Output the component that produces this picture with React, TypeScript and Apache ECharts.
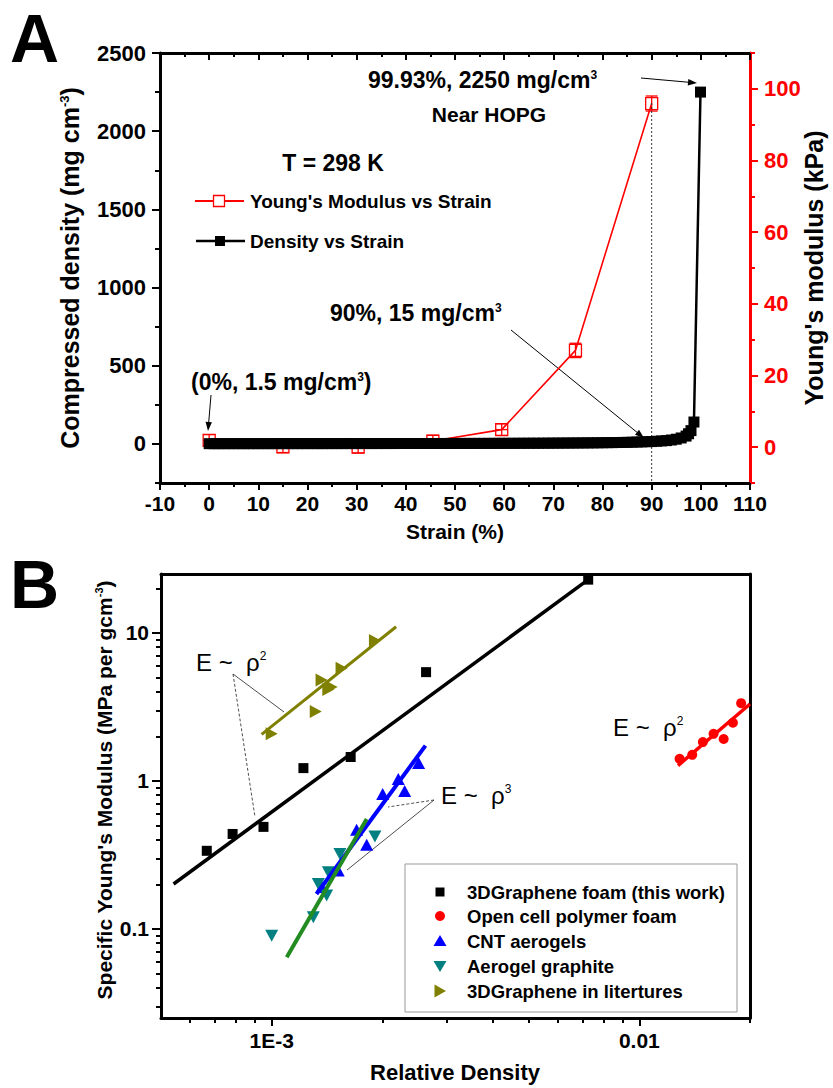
import React, { useEffect, useRef } from "react";
import * as echarts from "echarts";

const FONT = "'Liberation Sans', Arial, Helvetica, sans-serif";

// ---------------- Panel A data ----------------
const strainPct = [0,1,2,3,4,5,6,7,8,9,10,11,12,13,14,15,16,17,18,19,20,21,22,23,24,25,26,27,28,29,30,31,32,33,34,35,36,37,38,39,40,41,42,43,44,45,46,47,48,49,50,51,52,53,54,55,56,57,58,59,60,61,62,63,64,65,66,67,68,69,70,71,72,73,74,75,76,77,78,79,80,81,82,83,84,85,86,87,88,89,90,91,92,93,94,95,96,97,97.5,98,98.6,99.93];
const densityMg = [1.5,1.5,1.5,1.5,1.6,1.6,1.6,1.6,1.6,1.6,
  1.7,1.7,1.7,1.7,1.7,1.8,1.8,1.8,1.8,1.9,
  1.9,1.9,1.9,1.9,2.0,2.0,2.0,2.1,2.1,2.1,
  2.1,2.2,2.2,2.2,2.3,2.3,2.3,2.4,2.4,2.5,
  2.5,2.5,2.6,2.6,2.7,2.7,2.8,2.8,2.9,2.9,
  3.0,3.1,3.1,3.2,3.3,3.3,3.4,3.5,3.6,3.7,
  3.8,3.8,3.9,4.1,4.2,4.3,4.4,4.5,4.7,4.8,
  5.0,5.2,5.4,5.6,5.8,6.0,6.3,6.5,6.8,7.1,
  7.5,7.9,8.3,8.8,9.4,10,11,12,13,14,
  15,17,19,21,25,30,38,50,
  65,85,140,2250];
const modulusStrain = [0, 15, 30.3, 45.5, 59.5, 74.5, 90];
const modulusKPa = [1.9, 0.1, 0, 1.7, 4.9, 27, 95.9];
const modulusErrY = [1.6, 1.6, 1.6, 1.6, 1.6, 2.0, 2.1];
const modulusErrX = [1.2, 1.2, 1.2, 1.2, 1.2, 0, 0];
const densityTickValues = [0, 500, 1000, 1500, 2000, 2500];
const densityMinorValues = [-250, 250, 750, 1250, 1750, 2250];
const modulusTickValues = [0, 20, 40, 60, 80, 100];
const modulusMinorValues = [-10, 10, 30, 50, 70, 90, 110];

// ---------------- Panel B data ----------------
const foamDensity = [6.66e-4, 7.83e-4, 9.5e-4, 1.22e-3, 1.64e-3, 2.63e-3, 7.26e-3];
const foamModulus = [0.337, 0.438, 0.489, 1.22, 1.45, 5.43, 22.9];
const polymerDensity = [0.01287, 0.01393, 0.01489, 0.01592, 0.01696, 0.01797, 0.01892];
const polymerModulus = [1.41, 1.50, 1.83, 2.08, 1.92, 2.47, 3.35];
const cntDensity = [1.368e-3, 1.517e-3, 1.702e-3, 1.813e-3, 2.004e-3, 2.21e-3, 2.30e-3, 2.51e-3];
const cntModulus = [0.192, 0.248, 0.467, 0.370, 0.817, 1.03, 0.856, 1.32];
const graphiteDensity = [1.0e-3, 1.298e-3, 1.411e-3, 1.339e-3, 1.426e-3, 1.533e-3, 1.909e-3];
const graphiteModulus = [0.0898, 0.120, 0.168, 0.201, 0.241, 0.321, 0.421];
const litDensity = [1.0e-3, 1.318e-3, 1.367e-3, 1.426e-3, 1.456e-3, 1.549e-3, 1.909e-3];
const litModulus = [2.08, 2.94, 4.81, 4.14, 4.31, 5.77, 8.87];
const foamFitX = [5.41e-4, 7.26e-3];
const foamFitY = [0.201, 22.9];
const litFitX = [9.39e-4, 2.18e-3];
const litFitY = [2.06, 11.0];
const cntFitX = [1.324e-3, 2.62e-3];
const cntFitY = [0.172, 1.73];
const graphiteFitX = [1.099e-3, 1.813e-3];
const graphiteFitY = [0.0644, 0.553];
const polymerFitX = [0.01274, 0.02];
const polymerFitY = [1.269, 3.31];
const bXRange = [0.0005, 0.02];
const bYRange = [0.025, 25];
const bXLabelValues = [0.001, 0.01];
const bXLabelTexts = ["1E-3", "0.01"];
const bXMinorValues = [0.0006, 0.0007, 0.0008, 0.0009, 0.002, 0.003, 0.004, 0.005, 0.006, 0.007, 0.008, 0.009, 0.02];
const bYLabelValues = [0.1, 1, 10];
const bYLabelTexts = ["0.1", "1", "10"];
const bYMinorValues = [0.03, 0.04, 0.05, 0.06, 0.07, 0.08, 0.09, 0.2, 0.3, 0.4, 0.5, 0.6, 0.7, 0.8, 0.9, 2, 3, 4, 5, 6, 7, 8, 9, 20];
const legendNames = ["3DGraphene foam (this work)", "Open cell polymer foam", "CNT aerogels", "Aerogel graphite", "3DGraphene in litertures"];

const L = (v: number) => Math.log10(v);
const zipLog = (xs: number[], ys: number[]) => xs.map((x, i) => [L(x), L(ys[i])]);

const RED = "#FF0000";
const BLUE = "#0000FF";
const TEAL = "#008080";
const OLIVE = "#808000";
const GREEN = "#228B22";

function txt(x: number, y: number, text: string, size: number, o: any = {}) {
  const fill = o.color || "#000";
  const weight = o.weight || "bold";
  const sup = Math.round(size * 0.5);
  return {
    type: "text", x, y, rotation: o.rotation || 0, silent: true,
    style: {
      text, fill, fontSize: size, fontWeight: weight, fontFamily: o.family || FONT,
      align: o.align || "left", textAlign: o.align || "left",
      verticalAlign: "middle", textVerticalAlign: "middle",
      rich: {
        sup: { fontSize: sup, lineHeight: sup, fontWeight: weight, fontFamily: o.family || FONT, fill, verticalAlign: "top" },
      },
    },
  };
}

function arrow(x1: number, y1: number, x2: number, y2: number, head = 9, w = 3.2) {
  const dx = x2 - x1, dy = y2 - y1;
  const len = Math.hypot(dx, dy);
  const ux = dx / len, uy = dy / len;
  const bx = x2 - ux * head, by = y2 - uy * head;
  return [
    { type: "line", silent: true, shape: { x1, y1, x2: bx, y2: by }, style: { stroke: "#000", lineWidth: 1 } },
    { type: "polygon", silent: true, shape: { points: [[x2, y2], [bx - uy * w, by + ux * w], [bx + uy * w, by - ux * w]] }, style: { fill: "#000" } },
  ];
}

function thin(x1: number, y1: number, x2: number, y2: number, dashed = false) {
  return { type: "line", silent: true, shape: { x1, y1, x2, y2 }, style: { stroke: "#222", lineWidth: 0.8, lineDash: dashed ? [3, 2] : null } };
}

const tickFont = { fontSize: 22, fontWeight: "bold", fontFamily: FONT };
const plain = (v: number) => String(v);

function buildOption() {
  const blackAxisLine = { show: true, onZero: false, lineStyle: { color: "#000", width: 3 } };
  const redAxisLine = { show: true, onZero: false, lineStyle: { color: RED, width: 3 } };
  const hiddenLine = { show: false, onZero: false };
  const noSplit = { show: false };

  const xAxis: any[] = [
    { // 0: A bottom
      gridIndex: 0, type: "value", min: -10, max: 110, interval: 10, position: "bottom",
      axisLine: blackAxisLine,
      axisTick: { show: true, length: 7, lineStyle: { color: "#000", width: 2 } },
      minorTick: { show: true, splitNumber: 2, length: 4, lineStyle: { color: "#000", width: 2 } },
      axisLabel: { ...tickFont, fontSize: 21, color: "#000", margin: 10, formatter: plain },
      splitLine: noSplit, minorSplitLine: noSplit,
    },
    { // 1: A top
      gridIndex: 0, type: "value", min: -10, max: 110, interval: 10, position: "top",
      axisLine: blackAxisLine,
      axisTick: { show: true, inside: true, length: 7, lineStyle: { color: "#000", width: 2 } },
      minorTick: { show: true, splitNumber: 2, length: 4, lineStyle: { color: "#000", width: 2 } },
      axisLabel: { show: false }, splitLine: noSplit, minorSplitLine: noSplit,
    },
    { // 2: B bottom major
      gridIndex: 1, type: "value", min: L(bXRange[0]), max: L(bXRange[1]), position: "bottom",
      axisLine: blackAxisLine,
      axisTick: { show: true, customValues: bXLabelValues.map(L), length: 8, lineStyle: { color: "#000", width: 2 } },
      axisLabel: {
        ...tickFont, fontSize: 21, color: "#000", margin: 12, customValues: bXLabelValues.map(L),
        formatter: (v: number) => {
          const i = bXLabelValues.findIndex((t) => Math.abs(L(t) - v) < 1e-6);
          return i >= 0 ? bXLabelTexts[i] : "";
        },
      },
      splitLine: noSplit,
    },
    { // 3: B bottom minor
      gridIndex: 1, type: "value", min: L(bXRange[0]), max: L(bXRange[1]), position: "bottom",
      axisLine: hiddenLine,
      axisTick: { show: true, customValues: bXMinorValues.map(L), length: 5, lineStyle: { color: "#000", width: 2 } },
      axisLabel: { show: false }, splitLine: noSplit,
    },
    { // 4: B top line
      gridIndex: 1, type: "value", min: L(bXRange[0]), max: L(bXRange[1]), position: "top",
      axisLine: blackAxisLine, axisTick: { show: false }, axisLabel: { show: false }, splitLine: noSplit,
    },
  ];

  const yAxis: any[] = [
    { // 0: A left major
      gridIndex: 0, type: "value", min: -250, max: 2500, position: "left",
      axisLine: blackAxisLine,
      axisTick: { show: true, customValues: densityTickValues, length: 8, lineStyle: { color: "#000", width: 2 } },
      axisLabel: { ...tickFont, color: "#000", margin: 14, customValues: densityTickValues, formatter: plain },
      splitLine: noSplit,
    },
    { // 1: A right major
      gridIndex: 0, type: "value", min: -10, max: 110, position: "right",
      axisLine: redAxisLine,
      axisTick: { show: true, customValues: modulusTickValues, length: 8, lineStyle: { color: RED, width: 2 } },
      axisLabel: { ...tickFont, color: RED, margin: 14, customValues: modulusTickValues, formatter: plain },
      splitLine: noSplit,
    },
    { // 2: A left minor
      gridIndex: 0, type: "value", min: -250, max: 2500, position: "left",
      axisLine: hiddenLine,
      axisTick: { show: true, customValues: densityMinorValues, length: 5, lineStyle: { color: "#000", width: 2 } },
      axisLabel: { show: false }, splitLine: noSplit,
    },
    { // 3: A right minor
      gridIndex: 0, type: "value", min: -10, max: 110, position: "right",
      axisLine: hiddenLine,
      axisTick: { show: true, customValues: modulusMinorValues, length: 5, lineStyle: { color: RED, width: 2 } },
      axisLabel: { show: false }, splitLine: noSplit,
    },
    { // 4: B left major
      gridIndex: 1, type: "value", min: L(bYRange[0]), max: L(bYRange[1]), position: "left",
      axisLine: blackAxisLine,
      axisTick: { show: true, customValues: bYLabelValues.map(L), length: 9, lineStyle: { color: "#000", width: 2 } },
      axisLabel: {
        ...tickFont, fontSize: 21, color: "#000", margin: 12, customValues: bYLabelValues.map(L),
        formatter: (v: number) => {
          const i = bYLabelValues.findIndex((t) => Math.abs(L(t) - v) < 1e-6);
          return i >= 0 ? bYLabelTexts[i] : "";
        },
      },
      splitLine: noSplit,
    },
    { // 5: B left minor
      gridIndex: 1, type: "value", min: L(bYRange[0]), max: L(bYRange[1]), position: "left",
      axisLine: hiddenLine,
      axisTick: { show: true, customValues: bYMinorValues.map(L), length: 5, lineStyle: { color: "#000", width: 2 } },
      axisLabel: { show: false }, splitLine: noSplit,
    },
    { // 6: B right line
      gridIndex: 1, type: "value", min: L(bYRange[0]), max: L(bYRange[1]), position: "right",
      axisLine: blackAxisLine, axisTick: { show: false }, axisLabel: { show: false }, splitLine: noSplit,
    },
  ];

  const modulusData = modulusStrain.map((s, i) => [s, modulusKPa[i], modulusErrY[i], modulusErrX[i]]);

  const series: any[] = [
    {
      name: "Young's Modulus vs Strain", type: "line", xAxisIndex: 0, yAxisIndex: 1, silent: true,
      data: modulusData.map((d) => [d[0], d[1]]), symbol: "none",
      lineStyle: { color: RED, width: 1.6 },
    },
    {
      name: "Density vs Strain", type: "line", xAxisIndex: 0, yAxisIndex: 0, silent: true,
      data: strainPct.map((s, i) => [s, densityMg[i]]),
      symbol: "rect", symbolSize: 11, showAllSymbol: true,
      lineStyle: { color: "#000", width: 2.5 }, itemStyle: { color: "#000" },
    },
    {
      name: "guide", type: "line", xAxisIndex: 0, yAxisIndex: 0, silent: true,
      data: [[90, 2180], [90, -250]], symbol: "none",
      lineStyle: { color: "#333", width: 1, type: [2, 2] },
    },
    {
      name: "modulus markers", type: "custom", xAxisIndex: 0, yAxisIndex: 1, silent: true, clip: false,
      data: modulusData, encode: { x: 0, y: 1 },
      renderItem: (params: any, api: any) => {
        const x = api.value(0), y = api.value(1), ey = api.value(2), ex = api.value(3);
        const c = api.coord([x, y]);
        const t = api.coord([x, y + ey]);
        const b = api.coord([x, y - ey]);
        const lft = api.coord([x - ex, y]);
        const rgt = api.coord([x + ex, y]);
        const h = 6;
        const st = { stroke: RED, lineWidth: 1.3 };
        const ch: any[] = [
          { type: "rect", shape: { x: c[0] - h, y: c[1] - h, width: 2 * h, height: 2 * h }, style: { fill: "#fff", stroke: RED, lineWidth: 1.3 } },
          { type: "line", shape: { x1: c[0], y1: t[1], x2: c[0], y2: b[1] }, style: st },
          { type: "line", shape: { x1: c[0] - h, y1: t[1], x2: c[0] + h, y2: t[1] }, style: st },
          { type: "line", shape: { x1: c[0] - h, y1: b[1], x2: c[0] + h, y2: b[1] }, style: st },
        ];
        if (ex > 0) {
          ch.push({ type: "line", shape: { x1: lft[0], y1: c[1], x2: rgt[0], y2: c[1] }, style: st });
        }
        return { type: "group", children: ch };
      },
    },
    // Panel B scatters
    { name: legendNames[0], type: "scatter", xAxisIndex: 2, yAxisIndex: 4, silent: true, data: zipLog(foamDensity, foamModulus), symbol: "rect", symbolSize: 10, itemStyle: { color: "#000", opacity: 1 } },
    { name: legendNames[1], type: "scatter", xAxisIndex: 2, yAxisIndex: 4, silent: true, data: zipLog(polymerDensity, polymerModulus), symbol: "circle", symbolSize: 10, itemStyle: { color: RED, opacity: 1 } },
    { name: legendNames[2], type: "scatter", xAxisIndex: 2, yAxisIndex: 4, silent: true, data: zipLog(cntDensity, cntModulus), symbol: "triangle", symbolSize: [13, 12], itemStyle: { color: BLUE, opacity: 1 } },
    { name: legendNames[3], type: "scatter", xAxisIndex: 2, yAxisIndex: 4, silent: true, data: zipLog(graphiteDensity, graphiteModulus), symbol: "triangle", symbolRotate: 180, symbolSize: [13, 12], itemStyle: { color: TEAL, opacity: 1 } },
    { name: legendNames[4], type: "scatter", xAxisIndex: 2, yAxisIndex: 4, silent: true, data: zipLog(litDensity, litModulus), symbol: "triangle", symbolRotate: -90, symbolSize: [13, 12], itemStyle: { color: OLIVE, opacity: 1 } },
    // fit lines
    { name: "foam fit", type: "line", xAxisIndex: 2, yAxisIndex: 4, silent: true, data: zipLog(foamFitX, foamFitY), symbol: "none", lineStyle: { color: "#000", width: 3.5 } },
    { name: "lit fit", type: "line", xAxisIndex: 2, yAxisIndex: 4, silent: true, data: zipLog(litFitX, litFitY), symbol: "none", lineStyle: { color: OLIVE, width: 3 } },
    { name: "cnt fit", type: "line", xAxisIndex: 2, yAxisIndex: 4, silent: true, data: zipLog(cntFitX, cntFitY), symbol: "none", lineStyle: { color: BLUE, width: 4 } },
    { name: "graphite fit", type: "line", xAxisIndex: 2, yAxisIndex: 4, silent: true, data: zipLog(graphiteFitX, graphiteFitY), symbol: "none", lineStyle: { color: GREEN, width: 4 } },
    { name: "polymer fit", type: "line", xAxisIndex: 2, yAxisIndex: 4, silent: true, data: zipLog(polymerFitX, polymerFitY), symbol: "none", lineStyle: { color: RED, width: 3.5 } },
  ];

  const legendRows = [892, 916, 941, 966, 991];
  const graphics: any[] = [
    // panel letters
    txt(10, 38, "A", 68),
    txt(10, 584, "B", 68),
    // Panel A axis titles
    txt(70, 268, "Compressed density (mg cm{sup|-3})", 25, { rotation: Math.PI / 2, align: "center" }),
    txt(814, 268, "Young's modulus (kPa)", 25, { rotation: Math.PI / 2, align: "center" }),
    txt(455, 531, "Strain (%)", 21, { align: "center" }),
    // Panel A legend
    txt(333, 163, "T = 298 K", 23, { align: "center" }),
    { type: "line", silent: true, shape: { x1: 195, y1: 201, x2: 244, y2: 201 }, style: { stroke: RED, lineWidth: 2 } },
    { type: "rect", silent: true, shape: { x: 213.5, y: 195.5, width: 11, height: 11 }, style: { fill: "#fff", stroke: RED, lineWidth: 1.3 } },
    txt(250, 201, "Young's Modulus vs Strain", 19),
    { type: "line", silent: true, shape: { x1: 196, y1: 241, x2: 245, y2: 241 }, style: { stroke: "#000", lineWidth: 2.5 } },
    { type: "rect", silent: true, shape: { x: 215, y: 236, width: 10, height: 10 }, style: { fill: "#000" } },
    txt(250, 241, "Density vs Strain", 19),
    // Panel A annotations
    txt(368, 80, "99.93%, 2250 mg/cm{sup|3}", 23),
    txt(489, 114, "Near HOPG", 21, { align: "center" }),
    txt(330, 313, "90%, 15 mg/cm{sup|3}", 23),
    txt(191, 382, "(0%, 1.5 mg/cm{sup|3})", 23),
    ...arrow(641, 78, 697, 83),
    ...arrow(211, 395, 208, 431),
    ...arrow(511, 330, 644, 438),
    // Panel B axis titles
    txt(104, 790, "Specific Young's Modulus (MPa per gcm{sup|-3})", 21, { rotation: Math.PI / 2, align: "center" }),
    txt(455, 1072, "Relative Density", 22, { align: "center" }),
    // Panel B annotations
    txt(196, 662, "E ~  \u03c1{sup|2}", 24, { weight: "normal" }),
    txt(441, 795, "E ~  \u03c1{sup|3}", 24, { weight: "normal" }),
    txt(613, 727, "E ~  \u03c1{sup|2}", 24, { weight: "normal" }),
    thin(233, 674, 284, 712),
    thin(233, 674, 255, 817, true),
    thin(434, 800, 388, 807, true),
    thin(434, 800, 347, 870),
    // Panel B legend
    { type: "rect", silent: true, shape: { x: 405, y: 864, width: 332, height: 148 }, style: { fill: "#fff", stroke: "#999", lineWidth: 1 } },
    { type: "rect", silent: true, shape: { x: 435.5, y: legendRows[0] - 4.5, width: 9, height: 9 }, style: { fill: "#000" } },
    { type: "circle", silent: true, shape: { cx: 440, cy: legendRows[1], r: 5 }, style: { fill: RED } },
    { type: "polygon", silent: true, shape: { points: [[440, legendRows[2] - 6], [446.5, legendRows[2] + 5], [433.5, legendRows[2] + 5]] }, style: { fill: BLUE } },
    { type: "polygon", silent: true, shape: { points: [[433.5, legendRows[3] - 5], [446.5, legendRows[3] - 5], [440, legendRows[3] + 6]] }, style: { fill: TEAL } },
    { type: "polygon", silent: true, shape: { points: [[434.5, legendRows[4] - 6.5], [434.5, legendRows[4] + 6.5], [446, legendRows[4]]] }, style: { fill: OLIVE } },
    ...legendNames.map((n, i) => txt(467, legendRows[i], n, 18.5)),
  ];

  return {
    animation: false,
    backgroundColor: "#fff",
    textStyle: { fontFamily: FONT },
    grid: [
      { left: 160, top: 53, width: 590, height: 430 },
      { left: 161, top: 574, width: 589, height: 444 },
    ],
    xAxis,
    yAxis,
    series,
    graphic: { elements: graphics },
  };
}

export default function App() {
  const ref = useRef<HTMLDivElement>(null);
  useEffect(() => {
    if (!ref.current) return;
    const chart = echarts.init(ref.current, undefined, { renderer: "svg" });
    chart.setOption(buildOption() as any);
    return () => {
      chart.dispose();
    };
  }, []);
  return (
    <div
      ref={ref}
      style={{ position: "absolute", left: 0, top: 0, width: 833, height: 1088, background: "#fff" }}
    />
  );
}
